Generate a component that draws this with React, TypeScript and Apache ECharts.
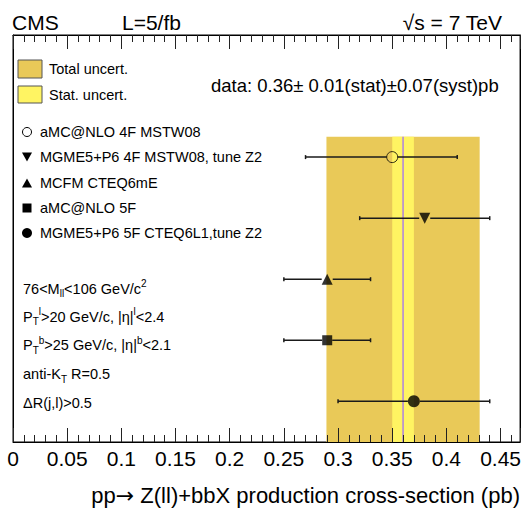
import React, { useEffect, useRef } from 'react';
import * as echarts from 'echarts';

const FONT = "'Liberation Sans', Arial, Helvetica, sans-serif";

// axis
const xMin = 0;
const xMax = 0.468;
const xInterval = 0.05;

// measurement
const dataCentral = 0.36;
const dataStat = 0.01;
const dataSyst = 0.07;
const bandTop = 0.75;

// theory predictions
const modelNames = [
  'aMC@NLO 4F MSTW08',
  'MGME5+P6 4F MSTW08, tune Z2',
  'MCFM CTEQ6mE',
  'aMC@NLO 5F',
  'MGME5+P6 5F CTEQ6L1,tune Z2',
];
const modelCentral = [0.35, 0.38, 0.29, 0.29, 0.37];
const modelLow = [0.27, 0.32, 0.25, 0.25, 0.3];
const modelHigh = [0.41, 0.44, 0.33, 0.33, 0.44];
const modelRow = [0.7, 0.55, 0.4, 0.25, 0.1];
const modelSymbols = ['circle', 'triangle', 'triangle', 'rect', 'circle'];
const modelRotate = [0, 180, 0, 0, 0];
const modelSizes = [11, 11, 11, 10, 12];
const modelOpen = [true, false, false, false, false];

const cutLines = [
  '76<M{sub|ll}<106 GeV/c{sup|2}',
  'P{sub|T}{sup|l}>20 GeV/c, |η|{sup|l}<2.4',
  'P{sub|T}{sup|b}>25 GeV/c, |η|{sup|b}<2.1',
  'anti-K{sub|T} R=0.5',
  'ΔR(j,l)>0.5',
];

const TOTAL_COLOR = '#E9C958';
const STAT_COLOR = '#FFF462';
const LINE_COLOR = '#9966FF';

export default function App() {
  const ref = useRef<HTMLDivElement>(null);

  useEffect(() => {
    if (!ref.current) return;
    const chart = echarts.init(ref.current, undefined, { renderer: 'svg' });

    const totErr = Math.sqrt(dataStat * dataStat + dataSyst * dataSyst);
    const bandData = [
      [dataCentral - totErr, dataCentral + totErr, bandTop],
      [dataCentral - dataStat, dataCentral + dataStat, bandTop],
    ];
    const bandColors = [TOTAL_COLOR, STAT_COLOR];

    const errData = modelNames.map((_, i) => [modelLow[i], modelHigh[i], modelRow[i], modelCentral[i], modelSizes[i]]);

    const xAxisBase = {
      type: 'value',
      min: xMin,
      max: xMax,
      interval: xInterval,
      z: 10,
      axisLine: { show: true, onZero: false, lineStyle: { color: '#000', width: 1 } },
      axisTick: { show: true, inside: true, length: 14, lineStyle: { color: '#222', width: 1 } },
      minorTick: { show: true, splitNumber: 5, length: 7, lineStyle: { color: '#222', width: 1 } },
      splitLine: { show: false },
      minorSplitLine: { show: false },
    };

    const yAxisBase = {
      type: 'value',
      min: 0,
      max: 1,
      z: 10,
      axisLine: { show: true, onZero: false, lineStyle: { color: '#000', width: 1 } },
      axisTick: { show: false },
      axisLabel: { show: false },
      splitLine: { show: false },
    };

    const legendRowsY = [132, 157, 183, 208, 233];
    const legendMarkers: any[] = [
      { type: 'circle', x: 27, y: legendRowsY[0], shape: { cx: 0, cy: 0, r: 4.5 }, style: { fill: '#fff', stroke: '#000', lineWidth: 1 } },
      { type: 'polygon', x: 27, y: legendRowsY[1], shape: { points: [[-5, -4.5], [5, -4.5], [0, 4.5]] }, style: { fill: '#000' } },
      { type: 'polygon', x: 27, y: legendRowsY[2], shape: { points: [[-5, 4.5], [5, 4.5], [0, -4.5]] }, style: { fill: '#000' } },
      { type: 'rect', x: 27, y: legendRowsY[3], shape: { x: -4.5, y: -4.5, width: 9, height: 9 }, style: { fill: '#000' } },
      { type: 'circle', x: 27, y: legendRowsY[4], shape: { cx: 0, cy: 0, r: 5 }, style: { fill: '#000' } },
    ];

    const txt = (x: number, y: number, text: string, size: number, align = 'left', extra: any = {}) => ({
      type: 'text',
      x,
      y,
      silent: true,
      style: { text, fontSize: size, fontFamily: FONT, fill: '#000', align, verticalAlign: 'middle', ...extra },
    });

    const cutYs = [288.5, 316.5, 345, 374, 403];
    const richStyles = {
      sub: { fontSize: 10, fontFamily: FONT, lineHeight: 9, verticalAlign: 'bottom', fill: '#000' },
      sup: { fontSize: 10, fontFamily: FONT, lineHeight: 9, verticalAlign: 'top', fill: '#000' },
    };

    const graphics: any[] = [
      txt(12, 22.5, 'CMS', 21),
      txt(122, 22.5, 'L=5/fb', 21),
      txt(502, 22.5, '√s = 7 TeV', 21, 'right'),
      { type: 'rect', x: 18, y: 60, shape: { x: 0, y: 0, width: 24, height: 18 }, style: { fill: TOTAL_COLOR, stroke: '#555', lineWidth: 1 } },
      txt(49, 68.8, 'Total uncert.', 14.5),
      { type: 'rect', x: 18, y: 86, shape: { x: 0, y: 0, width: 24, height: 17 }, style: { fill: STAT_COLOR, stroke: '#555', lineWidth: 1 } },
      txt(49, 94.5, 'Stat. uncert.', 14.5),
      txt(211, 85.7, `data: ${dataCentral.toFixed(2)}± ${dataStat.toFixed(2)}(stat)±${dataSyst.toFixed(2)}(syst)pb`, 18.5),
      ...legendMarkers,
      ...modelNames.map((n, i) => txt(40, legendRowsY[i], n, 14.5)),
      ...cutLines.map((l, i) => txt(23, cutYs[i], l, 14.5, 'left', { lineHeight: 20, rich: richStyles })),
      txt(520, 495.3, 'pp{arr|→} Z(ll)+bbX production cross-section (pb)', 22, 'right', {
        lineHeight: 26,
        rich: { arr: { fontSize: 22, fontFamily: "'DejaVu Sans', sans-serif", lineHeight: 26, fill: '#000' } },
      }),
    ];

    const option: any = {
      animation: false,
      backgroundColor: '#fff',
      grid: { left: 13, right: 1, top: 35, bottom: 69, show: true, borderColor: '#000', borderWidth: 1, backgroundColor: 'transparent' },
      xAxis: [
        {
          ...xAxisBase,
          position: 'bottom',
          axisLabel: { show: true, fontSize: 21, fontFamily: FONT, color: '#000', margin: 6, showMaxLabel: false },
        },
        {
          ...xAxisBase,
          position: 'top',
          axisLabel: { show: false },
        },
      ],
      yAxis: [
        { ...yAxisBase, position: 'left' },
        { ...yAxisBase, position: 'right' },
      ],
      series: [
        {
          type: 'custom',
          name: 'bands',
          z: 1,
          silent: true,
          data: bandData,
          encode: { x: [0, 1], y: 2 },
          renderItem: (params: any, api: any) => {
            const p0 = api.coord([api.value(0), api.value(2)]);
            const p1 = api.coord([api.value(1), 0]);
            return {
              type: 'rect',
              shape: { x: p0[0], y: p0[1], width: p1[0] - p0[0], height: p1[1] - p0[1] },
              style: { fill: bandColors[params.dataIndex] },
            };
          },
        },
        {
          type: 'line',
          name: 'central',
          z: 2,
          silent: true,
          showSymbol: false,
          data: [
            [dataCentral, 0],
            [dataCentral, bandTop],
          ],
          lineStyle: { color: LINE_COLOR, width: 1.2 },
        },
        {
          type: 'custom',
          name: 'errors',
          z: 3,
          silent: true,
          data: errData,
          encode: { x: [0, 1, 3], y: 2 },
          renderItem: (params: any, api: any) => {
            const y = api.value(2);
            const lo = api.coord([api.value(0), y]);
            const hi = api.coord([api.value(1), y]);
            const c = api.coord([api.value(3), y]);
            const gap = api.value(4) / 2;
            const st = { stroke: '#1a1a1a', lineWidth: 1.5 };
            return {
              type: 'group',
              children: [
                { type: 'line', shape: { x1: lo[0], y1: lo[1], x2: c[0] - gap, y2: c[1] }, style: st },
                { type: 'line', shape: { x1: c[0] + gap, y1: c[1], x2: hi[0], y2: hi[1] }, style: st },
                { type: 'line', shape: { x1: lo[0], y1: lo[1] - 2, x2: lo[0], y2: lo[1] + 2 }, style: st },
                { type: 'line', shape: { x1: hi[0], y1: hi[1] - 2, x2: hi[0], y2: hi[1] + 2 }, style: st },
              ],
            };
          },
        },
        ...modelNames.map((n, i) => ({
          type: 'scatter',
          name: n,
          z: 4,
          silent: true,
          symbol: modelSymbols[i],
          symbolRotate: modelRotate[i],
          symbolSize: modelSizes[i],
          data: [[modelCentral[i], modelRow[i]]],
          itemStyle: modelOpen[i]
            ? { color: 'rgba(0,0,0,0)', borderColor: '#000', borderWidth: 1 }
            : { color: '#000' },
        })),
      ],
      graphic: graphics,
    };

    chart.setOption(option);
    return () => chart.dispose();
  }, []);

  return <div ref={ref} style={{ position: 'fixed', left: 0, top: 0, width: 524, height: 511 }} />;
}
